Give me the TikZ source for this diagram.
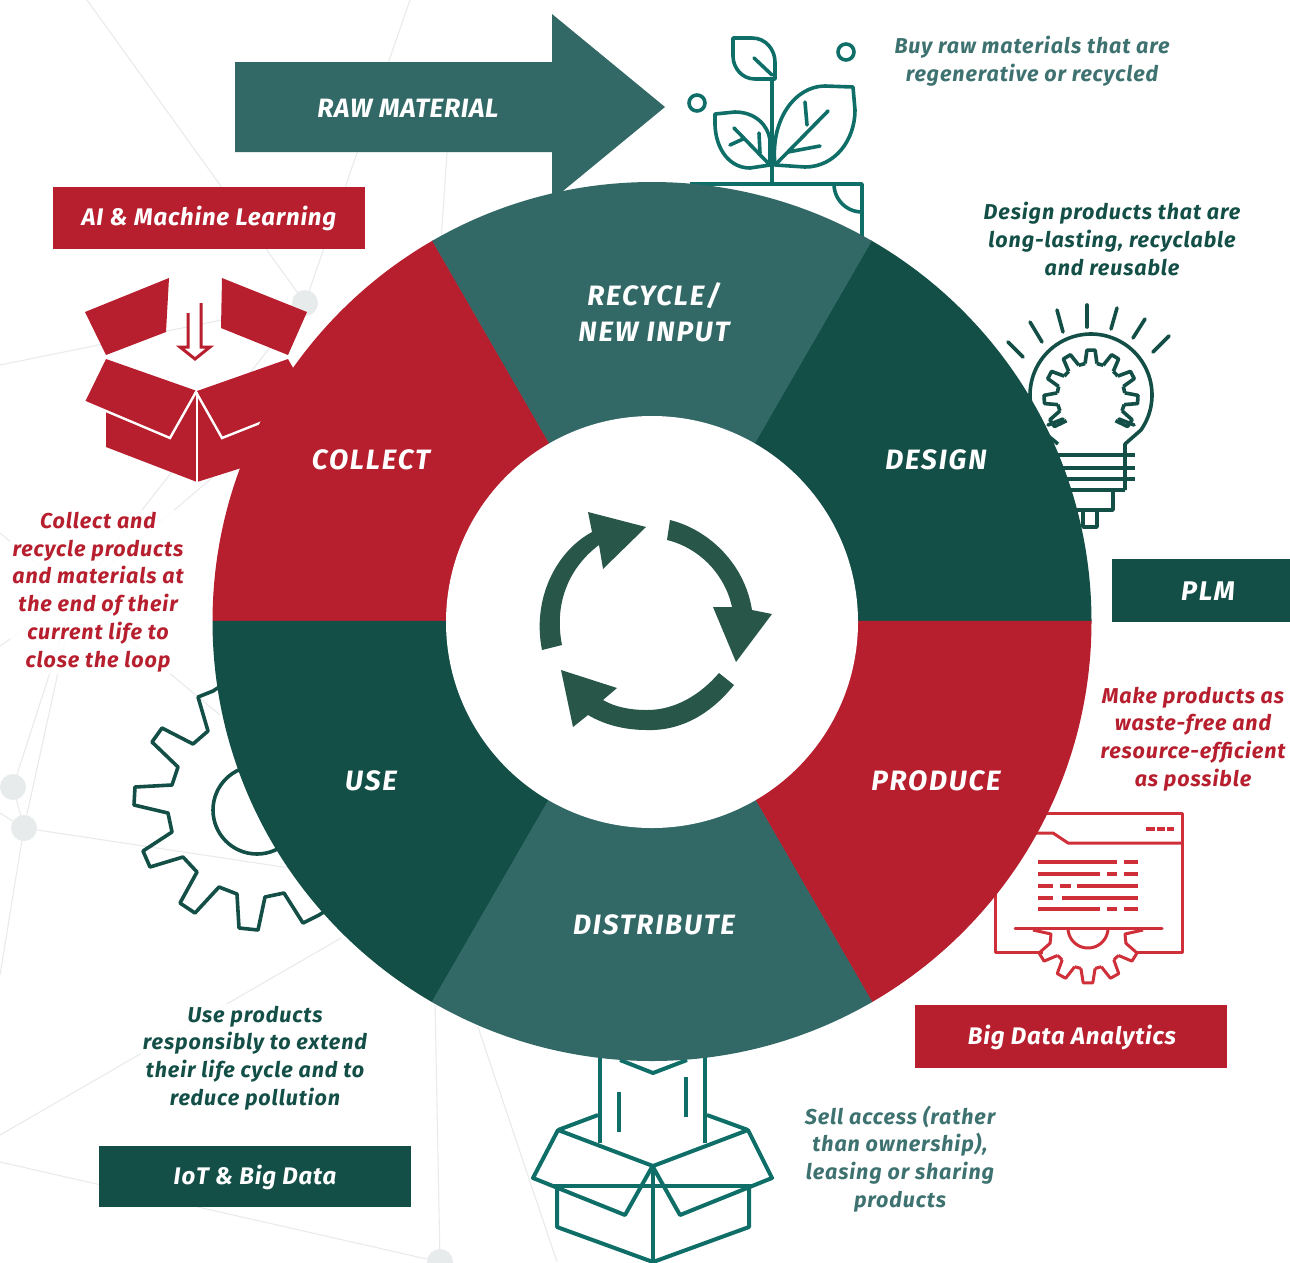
\documentclass[tikz,border=0pt]{standalone}
\usepackage{fontspec}
\setmainfont{Fira Sans}
\newfontfamily\lblfont[LetterSpace=6.5]{Fira Sans}
\newfontfamily\rawfont[LetterSpace=2.5]{Fira Sans}
\newfontfamily\subfont[LetterSpace=4.2]{Fira Sans}
\newfontfamily\tagfont[LetterSpace=3.4]{Fira Sans}
\definecolor{dkgreen}{HTML}{134F47}
\definecolor{midteal}{HTML}{326967}
\definecolor{crimson}{HTML}{B71F2E}
\definecolor{icoteal}{HTML}{0F6F68}
\definecolor{icored}{HTML}{CF2F38}
\definecolor{subteal}{HTML}{3E7270}
\definecolor{cycgreen}{HTML}{28574A}
\definecolor{netgrey}{HTML}{E8EBEB}
\tikzset{
  netline/.style={draw=netgrey,line width=1.1pt},
  netdot/.style={circle,fill=netgrey,minimum size=26pt,inner sep=0pt},
  sectorlabel/.style={text=white,font=\lblfont\bfseries\itshape\fontsize{28}{36}\selectfont,align=center,inner sep=0pt},
  taglabel/.style={text=white,font=\tagfont\bfseries\itshape\fontsize{24}{28}\selectfont,inner sep=0pt},
  subtext/.style={font=\subfont\bfseries\itshape\fontsize{21.5}{27.8}\selectfont,align=center,inner sep=2pt,fill=white,fill opacity=.85,text opacity=1},
  icoline/.style={draw=icoteal,line width=3.6pt,line join=round},
  bulbline/.style={draw=dkgreen,line width=3.6pt,line join=round},
  winline/.style={draw=icored,line width=3pt,line join=round},
  wintext/.style={draw=icored,line width=3.4pt},
}
\newcommand{\gearteeth}[8]{% cx cy rin rout w1 w2 list-of-angles pen
  \draw[#8] ({#1+#3*cos(#7-#5)},{#2-#3*sin(#7-#5)})
    -- ({#1+#4*cos(#7-#6)},{#2-#4*sin(#7-#6)})
    -- ({#1+#4*cos(#7+#6)},{#2-#4*sin(#7+#6)})
    -- ({#1+#3*cos(#7+#5)},{#2-#3*sin(#7+#5)});
}
\newcommand{\ringsector}[3]{% from to colour
  \fill[#3,draw=#3,line width=.4pt] (652,621)
    -- ({652+600*cos(#1)},{621-600*sin(#1)})
    -- ({652+600*cos((#1+#2)/2)},{621-600*sin((#1+#2)/2)})
    -- ({652+600*cos(#2)},{621-600*sin(#2)}) -- cycle;
}
\begin{document}
\begin{tikzpicture}[x=1pt,y=-1pt]
\useasboundingbox (0,0) rectangle (1290,1262);
% background network
\coordinate (nA) at (305,303);
\coordinate (nB) at (75,595);
\coordinate (nC) at (13,787);
\coordinate (nD) at (24,828);
\coordinate (nE) at (440,1262);
\draw[netline] (87,0) -- (nA);
\draw[netline] (410,0) -- (nA);
\draw[netline] (0,365) -- (nA);
\draw[netline] (448,140) -- (441,240);
\draw[netline] (nB) -- (nA);
\draw[netline] (nB) -- (213,477);
\draw[netline] (nB) -- (0,533);
\draw[netline] (nB) -- (0,646);
\draw[netline] (nB) -- (220,715);
\draw[netline] (nB) -- (nC);
\draw[netline] (nB) -- (nD);
\draw[netline] (nC) -- (nD);
\draw[netline] (nD) -- (0,813);
\draw[netline] (nD) -- (0,975);
\draw[netline] (nD) -- (290,868);
\draw[netline] (341,938) -- (0,1135);
\draw[netline] (0,1162) -- (nE);
\draw[netline] (435,1000) -- (nE);
\draw[netline] (478,1027) -- (557,1262);
\node[netdot] (dotA) at (nA) {};
\node[netdot] (dotB) at (nB) {};
\node[netdot] (dotC) at (nC) {};
\node[netdot] (dotD) at (nD) {};
\node[netdot] (dotE) at (nE) {};

% raw material arrow
\fill[midteal] (235,62) -- (552,62) -- (552,14) -- (665,107) -- (552,200) -- (552,152) -- (235,152) -- cycle;

% plant icon
\draw[icoline] (733,38) -- (752,38) .. controls (766,38) and (775,50) .. (775,62) -- (775,79) -- (755,79) .. controls (742,79) and (733,68) .. (733,56) -- cycle;
\draw[icoline,line cap=round] (754,58) -- (772,75);
\draw[icoline] (772,79) -- (772,184);
\draw[icoline] (775,165) .. controls (770,120) and (795,86) .. (825,86) -- (853,87) -- (855,110) .. controls (855,140) and (835,167) .. (805,167) -- cycle;
\draw[icoline,line cap=round] (777,163) -- (828,111);
\draw[icoline,line cap=round] (805,102) -- (807,125);
\draw[icoline,line cap=round] (788,152) -- (820,146);
\draw[icoline] (770,165) -- (770,140) .. controls (768,125) and (755,112) .. (735,112) -- (715,114) -- (715,125) .. controls (716,150) and (730,168) .. (750,168) -- cycle;
\draw[icoline,line cap=round] (734,128) -- (768,163);
\draw[icoline,line cap=round] (759,133) -- (760,153);
\draw[icoline,line cap=round] (730,145) -- (743,139);
\draw[icoline] (846,52) circle[radius=8];
\draw[icoline] (697,103) circle[radius=8];
\draw[icoline] (690,184) -- (862,184) -- (862,240);
\draw[icoline] plot[domain=180:270,samples=24] ({862+28*cos(\x)},{184-28*sin(\x)});

% bulb icon
\draw[bulbline,line cap=round] (1008,342) -- (1023,357);
\draw[bulbline,line cap=round] (1030,322) -- (1042,342);
\draw[bulbline,line cap=round] (1057,310) -- (1063,332);
\draw[bulbline,line cap=round] (1087,305) -- (1087,327);
\draw[bulbline,line cap=round] (1117,308) -- (1111,329);
\draw[bulbline,line cap=round] (1145,319) -- (1133,338);
\draw[bulbline,line cap=round] (1169,336) -- (1153,352);
\draw[bulbline] (1125,490) -- (1125,444) -- plot[domain=-35:215,samples=70] ({1091+61*cos(\x)},{395-61*sin(\x)}) -- (1058,444);
\foreach \a in {90,121,152,183,214,59,28,-3,-34}{
  \gearteeth{1091}{397}{34}{47}{10}{5}{\a}{bulbline}
}
\foreach \a in {105.5,136.5,167.5,198.5,74.5,43.5,12.5,-18.5}{
  \draw[bulbline] ({1091+34*cos(\a-5.6)},{397-34*sin(\a-5.6)}) -- ({1091+34*cos(\a+5.6)},{397-34*sin(\a+5.6)});
}
\draw[bulbline,line cap=round] (1063,419) -- (1048,425);
\draw[bulbline,line cap=round] (1119,419) -- (1134,425);
\draw[bulbline] (1040,455) -- (1135,455);
\draw[bulbline] (1040,468) -- (1135,468);
\draw[bulbline] (1040,479) -- (1135,479);
\draw[bulbline] (1040,490) -- (1125,490);
\draw[bulbline] (1113,490) -- (1113,510) -- (1060,510);
\draw[bulbline] (1083,510) -- (1083,527) -- (1097,527) -- (1097,510);

% red window icon
\draw[winline] (1040,813) -- (1182,813) -- (1182,952) -- (1136,952);
\draw[winline] (1043,952) -- (995,952) -- (995,880);
\draw[winline] (1030,833) -- (1053,833) -- (1068,843) -- (1182,843);
\draw[wintext] (1146,829) -- (1155,829) (1157,829) -- (1165,829) (1167,829) -- (1174,829);
\draw[wintext] (1038,862) -- (1117,862) (1124,862) -- (1138,862);
\draw[wintext] (1038,874) -- (1100,874) (1107,874) -- (1117,874) (1124,874) -- (1138,874);
\draw[wintext] (1038,886) -- (1053,886) (1060,886) -- (1071,886) (1077,886) -- (1138,886);
\draw[wintext] (1038,898) -- (1053,898) (1062,898) -- (1138,898);
\draw[wintext] (1038,909) -- (1100,909) (1107,909) -- (1117,909) (1124,909) -- (1138,909);
\draw[winline,line cap=round] (1015,928) -- (1162,928);
\draw[winline] plot[domain=180:360,samples=36] ({1088+20*cos(\x)},{928-20*sin(\x)});
\foreach \a in {212,241,270,299,328}{
  \gearteeth{1088}{928}{41}{55}{10}{5}{\a}{winline}
}
\foreach \a in {226.5,255.5,284.5,313.5}{
  \draw[winline] ({1088+41*cos(\a-4.5)},{928-41*sin(\a-4.5)}) -- ({1088+41*cos(\a+4.5)},{928-41*sin(\a+4.5)});
}
\draw[winline] (1033,930) -- (1051,934) -- (1050,944);
\draw[winline] (1143,930) -- (1125,934) -- (1126,944);

% open box, bottom
\draw[icoline,line width=4pt] (600,1050) -- (600,1143);
\draw[icoline,line width=4pt] (705,1050) -- (705,1143);
\draw[icoline,line width=4pt] (620,1060) -- (653,1073) -- (687,1060);
\draw[icoline] (619,1092) -- (619,1132);
\draw[icoline] (686,1077) -- (686,1117);
\draw[icoline,line width=4pt] (598,1115) -- (558,1130);
\draw[icoline,line width=4pt] (707,1115) -- (748,1130);
\draw[icoline,line width=4pt] (652,1167) -- (625,1215) -- (533,1178) -- (558,1130) -- (653,1166) -- (748,1130) -- (772,1178) -- (680,1215) -- (653,1167);
\draw[icoline,line width=4pt] (553,1186) -- (752,1186);
\draw[icoline,line width=4pt] (557,1188) -- (557,1227) -- (653,1262) -- (749,1227) -- (749,1188);
\draw[icoline,line width=4pt] (653,1170) -- (653,1262);

% cog icon, left
\draw[bulbline] (230,680) -- (213,691) -- (198,697) -- (208,731) -- (193,744) -- (162,728) -- (152,742) -- (178,767) -- (172,785) -- (135,787) -- (134,805) -- (168,813) -- (172,832) -- (143,851) -- (150,867) -- (183,857) -- (197,872) -- (180,903) -- (195,913) -- (219,887) -- (237,894) -- (239,928) -- (258,930) -- (265,897) -- (284,893) -- (303,923) -- (319,915) -- (335,905);
\draw[bulbline] (257,810) circle[radius=44];

% red open box, upper left
\fill[crimson] (85,312) -- (169,278) -- (166,332) -- (106,355) -- cycle;
\fill[crimson] (222,278) -- (307,312) -- (288,355) -- (221,328) -- cycle;
\fill[crimson] (85,402) -- (106,359) -- (197,391) -- (288,359) -- (300,380) -- (330,440) -- (197,482) -- (106,447) -- (106,411) -- cycle;
\draw[white,line width=2.4pt] (80,400) -- (170,438) -- (196,392) -- (222,438) -- (270,419);
\draw[white,line width=2.4pt] (197,392) -- (197,484);
\draw[crimson,line width=3pt,fill=white,line join=miter] (188,313) -- (188,347) -- (180,347) -- (195,359) -- (210,347) -- (201,347) -- (201,303);

% ring
\begin{scope}
  \clip (652,621.5) circle[radius=439.5];
  \ringsector{0}{60}{dkgreen}
  \ringsector{120}{180}{crimson}
  \ringsector{180}{240}{dkgreen}
  \ringsector{300}{360}{crimson}
  \ringsector{60}{120}{midteal}
  \ringsector{240}{300}{midteal}
\end{scope}
\fill[white] (652,622) circle[radius=206];

% recycling arrows
\fill[cycgreen] (542,650) .. controls (532,600) and (555,552) .. (592,532) -- (588,512) -- (646,527) -- (603,569) -- (599,545) .. controls (572,565) and (553,600) .. (562,645) -- cycle;
\fill[cycgreen] (670,520) .. controls (710,530) and (745,565) .. (752,610) -- (772,614) -- (736,662) -- (713,607) -- (732,607) .. controls (725,575) and (700,548) .. (667,540) -- cycle;
\fill[cycgreen] (734,685) .. controls (710,715) and (680,731) .. (647,730) .. controls (625,730) and (605,725) .. (588,715) -- (573,727) -- (561,670) -- (617,688) -- (603,700) .. controls (615,707) and (630,710) .. (647,710) .. controls (675,710) and (700,695) .. (719,673) -- cycle;

% sector labels
\node[sectorlabel] (recycle) at (654,312) {RECYCLE/\\NEW INPUT};
\node[sectorlabel] (design) at (936,460) {DESIGN};
\node[sectorlabel] (produce) at (936,781) {PRODUCE};
\node[sectorlabel] (distribute) at (654,925) {DISTRIBUTE};
\node[sectorlabel] (use) at (371,781) {USE};
\node[sectorlabel] (collect) at (371,460) {COLLECT};
\node[sectorlabel,font=\rawfont\bfseries\itshape\fontsize{26.5}{36}\selectfont] (rawmat) at (408,108) {RAW MATERIAL};

% tag boxes
\fill[crimson] (53,187) rectangle (365,249);
\node[taglabel] (tagai) at (209,218) {AI \& Machine Learning};
\fill[dkgreen] (1112,559) rectangle (1290,622);
\node[taglabel,font=\lblfont\bfseries\itshape\fontsize{27}{28}\selectfont] (tagplm) at (1208,591) {PLM};
\fill[crimson] (915,1005) rectangle (1227,1068);
\node[taglabel] (tagbig) at (1072,1037) {Big Data Analytics};
\fill[dkgreen] (99,1146) rectangle (411,1207);
\node[taglabel] (tagiot) at (255,1177) {IoT \& Big Data};

% descriptions
\node[subtext,text=subteal] (txtbuy) at (1032,61) {Buy raw materials that are\\regenerative or recycled};
\node[subtext,text=dkgreen] (txtdesign) at (1112,239) {Design products that are\\long-lasting, recyclable\\and reusable};
\node[subtext,text=crimson] (txtmake) at (1193,739) {Make products as\\waste-free and\\resource-efficient\\as possible};
\node[subtext,text=subteal] (txtsell) at (900,1159) {Sell access (rather\\than ownership),\\leasing or sharing\\products};
\node[subtext,text=dkgreen] (txtuse) at (255,1058) {Use products\\responsibly to extend\\their life cycle and to\\reduce pollution};
\node[subtext,text=crimson] (txtcollect) at (98,592) {Collect and\\recycle products\\and materials at\\the end of their\\current life to\\close the loop};
\end{tikzpicture}
\end{document}
